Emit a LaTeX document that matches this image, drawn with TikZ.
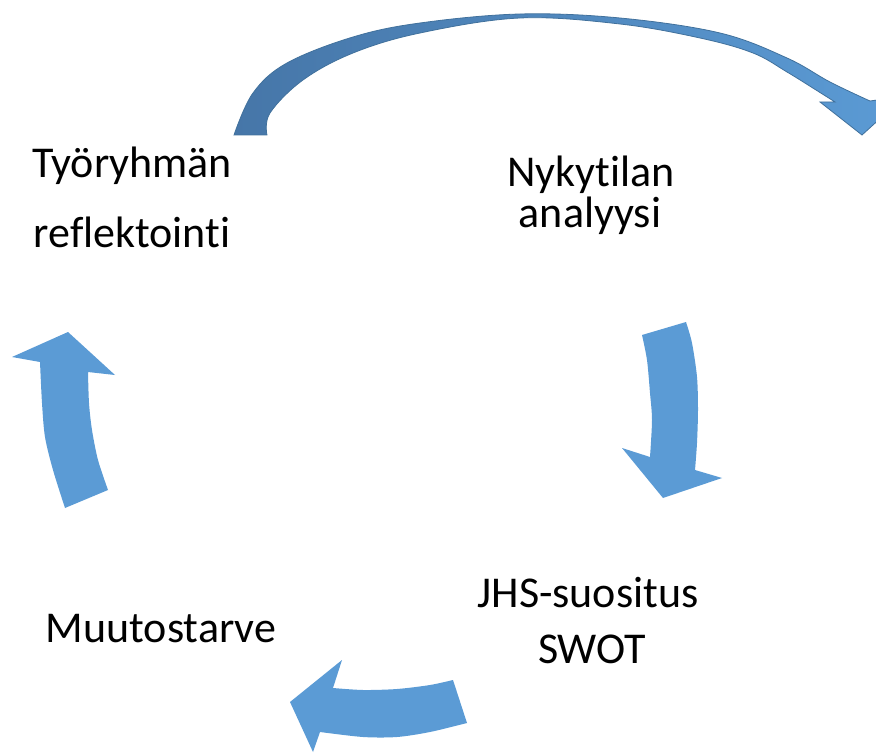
\documentclass[tikz,border=0pt]{standalone}
\usepackage{fontspec}
\setmainfont{Carlito}[Ligatures=NoCommon]
\definecolor{arrowblue}{HTML}{5B9BD5}
\definecolor{topdark}{HTML}{4676A8}
\definecolor{topmid}{HTML}{4D80B6}
\definecolor{topedge}{HTML}{41719C}
\tikzset{
  label/.style={font=\fontsize{44}{52}\selectfont, text=black, anchor=base, inner sep=0pt},
  cyclearrow/.style={fill=arrowblue, draw=none},
}
\begin{document}
\begin{tikzpicture}[x=1pt, y=-1pt]
\useasboundingbox (0,0) rectangle (876,754);
\clip (0,0) rectangle (876,754);

% curved arrow over the top, from the reflection step to the analysis step
\path[left color=topdark, middle color=topmid, right color=arrowblue, draw=topedge, line width=0.8pt]
  plot[smooth, tension=0.6] coordinates {(234,135) (253,93) (287,63) (353,37) (420,23) (520,14) (620,18) (720,33) (787,58) (830,82) (870,101)}
  -- (905,96) -- (862,135) -- (820,102) -- (835,102)
  -- plot[smooth, tension=0.6] coordinates {(835,102) (816,90) (787,72) (753,53) (700,38) (620,24) (520,18) (420,33) (353,53) (303,80) (270,113) (267,135)}
  -- cycle;

% right arrow, pointing down
\path[cyclearrow]
  plot[smooth] coordinates {(642,335) (647,360) (650,393) (652,420) (650,457)}
  -- (622,448) -- (663,498) -- (722,478) -- (695,470)
  -- plot[smooth] coordinates {(695,470) (697,443) (698,410) (697,377) (692,343) (686,322)}
  -- cycle;

% bottom arrow, pointing left
\path[cyclearrow]
  plot[smooth] coordinates {(453,680) (430,685) (397,689) (363,690) (333,688)}
  -- (342,660) -- (290,702) -- (313,752) -- (320,732)
  -- plot[smooth] coordinates {(320,732) (363,737) (397,737) (430,732) (467,723)}
  -- cycle;

% left arrow, pointing up
\path[cyclearrow]
  plot[smooth] coordinates {(65,508) (53,470) (45,437) (42,403) (40,362)}
  -- (12,357) -- (68,332) -- (115,375) -- (88,372)
  -- plot[smooth] coordinates {(88,372) (89,403) (92,430) (98,460) (108,490)}
  -- cycle;

% step labels
\node[label] (tyoryhman) at (132,178) {Työryhmän};
\node[label] (reflektointi) at (132,248) {reflektointi};
\node[label] (nykytilan) at (591,187) {Nykytilan};
\node[label] (analyysi) at (590,228) {analyysi};
\node[label] (jhs) at (588,607) {JHS-suositus};
\node[label] (swot) at (592,663) {SWOT};
\node[label] (muutostarve) at (161,642) {Muutostarve};
\end{tikzpicture}
\end{document}
